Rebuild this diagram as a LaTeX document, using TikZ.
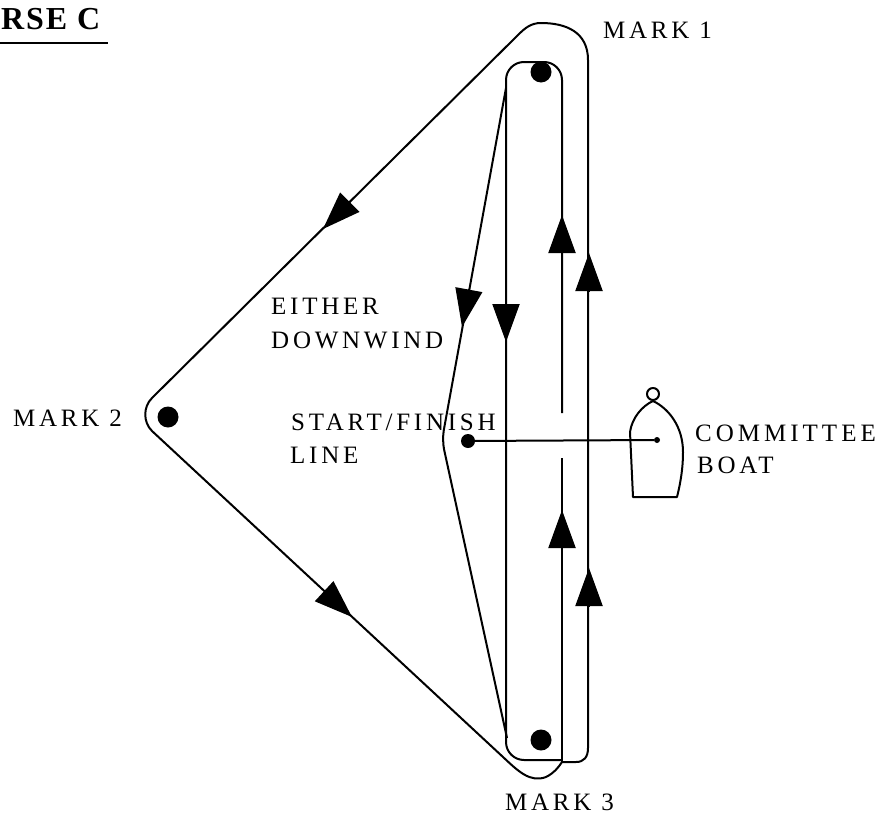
\documentclass[tikz,border=0pt]{standalone}
\usepackage{fontspec}
\setmainfont{Liberation Serif}
\newfontfamily\markfont[LetterSpace=15]{Liberation Serif}
\newfontfamily\widefont[LetterSpace=16]{Liberation Serif}
\newfontfamily\titlefont[LetterSpace=6]{Liberation Serif}
\usetikzlibrary{arrows.meta}

\begin{document}
\begin{tikzpicture}[x=1pt, y=-1pt,
        course/.style={line width=2pt, line join=round},
        flow/.style={line width=2pt, -{Triangle[length=38pt, width=27pt]}},
        buoy/.style={circle, fill, inner sep=0pt, minimum size=21pt},
        lbl/.style={anchor=base west, inner sep=0pt, font=\fontsize{25}{25}\markfont}]
        \useasboundingbox (0,0) rectangle (879,814);

        % marks and start line ends
        \node[buoy] (m1) at (541,72) {};
        \node[buoy] (m2) at (168,417) {};
        \node[buoy] (m3) at (541,740) {};
        \node[circle, fill, inner sep=0pt, minimum size=14pt] (pin) at (468,441) {};
        \node[circle, fill, inner sep=0pt, minimum size=6pt] (cb) at (657,440) {};

        % outer loop round all three marks
        \draw[course] (562,762) -- (576,762) .. controls (584,762) and (588,757) .. (588,748)
            -- (588,60) .. controls (588,32) and (566,23) .. (541,23)
            .. controls (531,23) and (525,28) .. (518,35) -- (152,398)
            .. controls (143,407) and (143,422) .. (152,431) -- (503,757)
            .. controls (518,771) and (530,783) .. (546,777)
            .. controls (554,773) and (558,768) .. (562,762);

        % inner loop between mark 1 and mark 3
        \draw[course, rounded corners=18pt]
            (562,760) -- (506,760) -- (506,62) -- (562,62) -- (562,413);
        \draw[course] (562,458) -- (562,762);
        \draw[course, rounded corners=10pt] (506,88) -- (442,440) -- (507,738);

        % start line and committee boat
        \draw[line width=2pt] (pin) -- (cb);
        \draw[course] (633,497) -- (630,432) .. controls (632,418) and (642,406) .. (653,401)
            .. controls (668,408) and (683,426) .. (683,452)
            .. controls (683,470) and (680,485) .. (677,497) -- cycle;
        \draw[course] (653,394) circle[radius=6];

        % direction arrows
        \draw[flow] (562,253) -- (562,215);
        \draw[flow] (589,292) -- (589,253);
        \draw[flow] (562,548) -- (562,510);
        \draw[flow] (589,607) -- (589,568);
        \draw[flow] (506,304) -- (506,342);
        \draw[flow] (469,289) -- (462,327);
        \draw[flow] (350,202) -- (323,229);
        \draw[flow] (325,592) -- (352,617);

        % labels
        \node[anchor=base west, inner sep=0pt, font=\fontsize{32}{32}\titlefont\bfseries]
            (title) at (1,29) {RSE C};
        \draw[line width=2pt] (0,43) -- (108,43);
        \node[lbl] (lm1) at (603,38) {MARK 1};
        \node[lbl] (lm2) at (13,426) {MARK 2};
        \node[lbl] (lm3) at (505,810) {MARK 3};
        \node[lbl] (lstart) at (291,430) {START/FINISH};
        \node[lbl] (lline) at (290,463) {LINE};
        \node[lbl] (leither) at (271,314) {EITHER};
        \node[lbl] (ldown) at (271,348) {DOWNWIND};
        \node[lbl, font=\fontsize{25}{25}\widefont] (lcomm) at (695,441) {COMMITTEE};
        \node[lbl] (lboat) at (697,473) {BOAT};
\end{tikzpicture}
\end{document}
